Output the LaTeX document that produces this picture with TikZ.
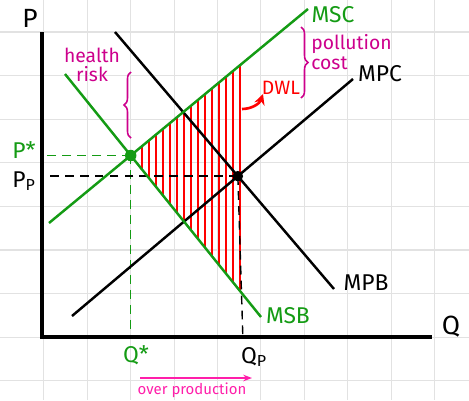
\documentclass[tikz,border=0pt]{standalone}
\usepackage{fontspec}
\setmainfont{Fira Sans}
\usetikzlibrary{positioning,calc}
\usetikzlibrary{arrows.meta,decorations.pathreplacing}
\definecolor{CurveGreen}{RGB}{20,155,20}
\definecolor{NotePink}{RGB}{205,0,140}
\definecolor{HotPink}{RGB}{255,30,170}
\definecolor{HatchRed}{RGB}{255,0,0}
\definecolor{GridGray}{RGB}{226,226,226}
\tikzset{
  gridline/.style={draw=GridGray,line width=0.6pt},
  axis/.style={draw=black,line width=2pt},
  curve/.style={line width=1.4pt},
  guide/.style={dash pattern=on 5pt off 3.5pt,line width=0.8pt},
  hatch/.style={draw=HatchRed,line width=0.9pt},
  dot/.style={circle,inner sep=0pt,minimum size=6pt},
  lbl/.style={font=\fontsize{13}{15}\selectfont},
  note/.style={text=NotePink,font=\fontsize{11}{11}\selectfont,inner sep=0pt},
  bracket/.style={draw=NotePink,line width=0.9pt,
    decorate,decoration={brace,amplitude=4pt}},
}

\begin{document}
\begin{tikzpicture}[x=0.02cm,y=-0.02cm]
  \useasboundingbox (0,0) rectangle (469,400);
  % paper grid
  \foreach \k in {1,...,10}
    \draw[gridline] ({0.5+43.4*\k},0) -- ++(0,400);
  \foreach \k in {0,...,8}
    \draw[gridline] (0,{32+43.6*\k}) -- ++(469,0);
  % curve end points
  \coordinate (origin) at (42,337);
  \coordinate (ytop) at (42,32);
  \coordinate (xend) at (432,337);
  \coordinate (msc-a) at (49,223);
  \coordinate (msc-b) at (308,9);
  \coordinate (msb-a) at (65,74);
  \coordinate (msb-b) at (261,317);
  \coordinate (mpc-a) at (72,316);
  \coordinate (mpc-b) at (353,79);
  \coordinate (mpb-a) at (115,32);
  \coordinate (mpb-b) at (334,289);
  \coordinate (opt) at (intersection of msc-a--msc-b and msb-a--msb-b);
  \coordinate (eq) at (intersection of mpc-a--mpc-b and mpb-a--mpb-b);
  \coordinate (dwl-top) at (242,63);
  \coordinate (dwl-bot) at (242,294);
  % deadweight loss
  \begin{scope}
    \clip (opt) -- (dwl-top) -- (dwl-bot) -- cycle;
    \foreach \x in {142,149,...,240}
      \draw[hatch] (\x,0) -- (\x,400);
  \end{scope}
  % guides to the axes
  \draw[guide,CurveGreen] (opt) -- (opt -| origin);
  \draw[guide,CurveGreen] (opt) -- (opt |- origin);
  \draw[guide,black] (eq) -- (eq -| origin);
  \draw[guide,black] (eq) -- ($(eq |- origin)+(5,0)$);
  % axes
  \draw[axis] (ytop) -- (origin) -- (xend);
  % curves
  \draw[curve,black] (mpc-a) -- (mpc-b);
  \draw[curve,black] (mpb-a) -- (mpb-b);
  \draw[curve,CurveGreen] (msc-a) -- (msc-b);
  \draw[curve,CurveGreen] (msb-a) -- (msb-b);
  \node[dot,fill=CurveGreen,minimum size=6.5pt] (opt-dot) at (opt) {};
  \node[dot,fill=black] (eq-dot) at (eq) {};
  % labels
  \node[lbl,font=\fontsize{15}{15}\selectfont] (p-lbl) at (30,18) {P};
  \node[lbl,font=\fontsize{15}{15}\selectfont] (q-lbl) at (451,327) {Q};
  \node[lbl,text=CurveGreen] (msc-lbl) at (333,15) {MSC};
  \node[lbl] (mpc-lbl) at (380,74) {MPC};
  \node[lbl] (mpb-lbl) at (366,283) {MPB};
  \node[lbl,text=CurveGreen] (msb-lbl) at (288,316) {MSB};
  \node[lbl,text=CurveGreen] (pstar-lbl) at (24,150) {P*};
  \node[lbl] (pp-lbl) at (24,181) {P\textsubscript{P}};
  \node[lbl,text=CurveGreen] (qstar-lbl) at (136,355) {Q*};
  \node[lbl] (qp-lbl) at (254,357) {Q\textsubscript{P}};
  \node[lbl,text=HatchRed,font=\fontsize{11}{11}\selectfont,inner sep=1pt]
    (dwl-lbl) at (281,88) {DWL};
  \coordinate (dwl-tail) at (242,109);
  \coordinate (dwl-head) at (263,94);
  \draw[HatchRed,line width=1.5pt,-{Stealth[length=6pt,width=6pt]}]
    (dwl-tail) to[bend right=35] (dwl-head);
  % external costs
  \node[note,align=center] (risk-lbl) at (92,65) {health\\risk};
  \draw[bracket] (131,138) -- (131,72);
  \node[note,align=left,anchor=west] (cost-lbl) at (311,52) {pollution\\cost};
  \draw[bracket] (301,27) -- (301,98);
  % over production
  \coordinate (over-a) at (140,378);
  \coordinate (over-b) at (252,378);
  \draw[HotPink,line width=1pt,-{Stealth[length=5pt]}] (over-a) -- (over-b);
  \node[text=HotPink,font=\fontsize{8.5}{9}\selectfont,inner sep=0pt]
    (over-lbl) at (192,390) {over production};
\end{tikzpicture}
\end{document}
